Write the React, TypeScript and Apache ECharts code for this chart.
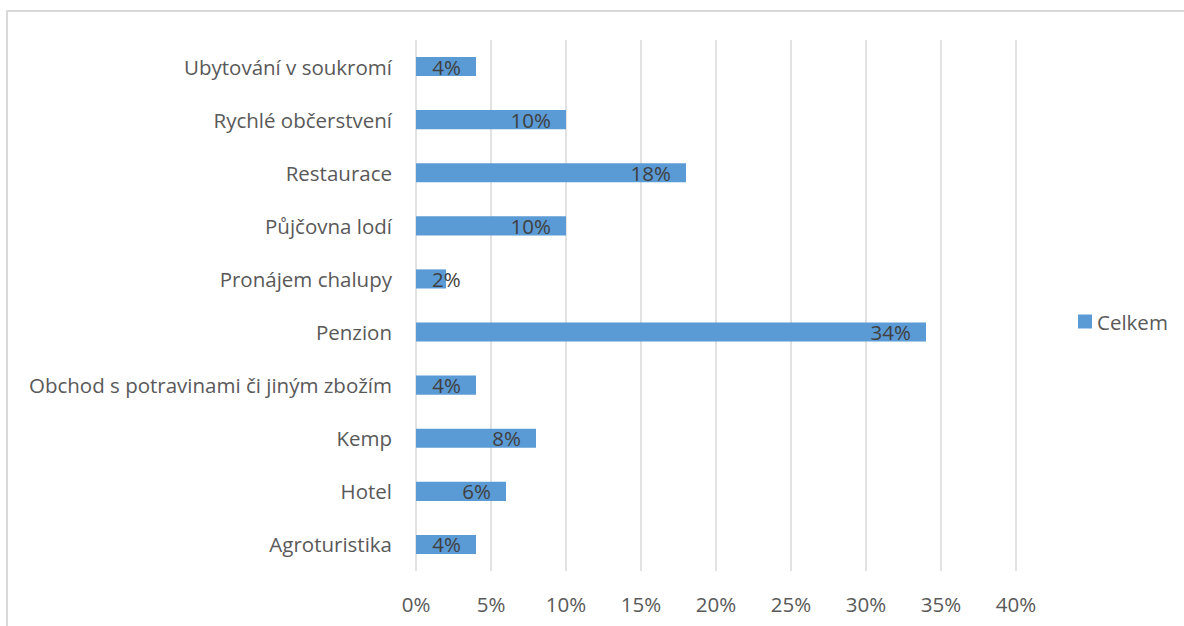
import React, { useEffect, useRef } from "react";
import * as echarts from "echarts";

const categories = [
  "Agroturistika",
  "Hotel",
  "Kemp",
  "Obchod s potravinami či jiným zbožím",
  "Penzion",
  "Pronájem chalupy",
  "Půjčovna lodí",
  "Restaurace",
  "Rychlé občerstvení",
  "Ubytování v soukromí",
];
const values = [4, 6, 8, 4, 34, 2, 10, 18, 10, 4];
const xTicks = [0, 5, 10, 15, 20, 25, 30, 35, 40];
const seriesName = "Celkem";

const FONT = "'Open Sans', 'Noto Sans', sans-serif";
const FS = 20.5;

export default function App() {
  const ref = useRef<HTMLDivElement>(null);
  useEffect(() => {
    if (!ref.current) return;
    const chart = echarts.init(ref.current, null, { renderer: "svg" });
    chart.setOption({
      animation: false,
      backgroundColor: "#ffffff",
      graphic: [
        {
          type: "rect",
          shape: { x: 7, y: 10, width: 1184, height: 2 },
          style: { fill: "#d9d9d9" },
          z: 100,
        },
        {
          type: "rect",
          shape: { x: 6, y: 10, width: 2, height: 620 },
          style: { fill: "#d9d9d9" },
          z: 100,
        },
      ],
      legend: {
        data: [seriesName],
        left: 1078,
        top: 311,
        padding: 0,
        itemWidth: 14,
        itemHeight: 14,
        itemGap: 6,
        icon: "rect",
        textStyle: { color: "#595959", fontSize: FS, fontFamily: FONT },
      },
      grid: { left: 416, right: 168, top: 40, bottom: 55, containLabel: false },
      xAxis: {
        type: "value",
        min: 0,
        max: 40,
        interval: 5,
        axisLine: { show: false },
        axisTick: { show: false },
        splitLine: { show: true, lineStyle: { color: "#d9d9d9", width: 1.5 } },
        axisLabel: {
          margin: 22,
          color: "#595959",
          fontSize: FS,
          fontFamily: FONT,
          formatter: (v: number) => (xTicks.includes(v) ? v + "%" : ""),
        },
      },
      yAxis: {
        type: "category",
        data: categories,
        axisLine: { show: false },
        axisTick: { show: false },
        axisLabel: {
          margin: 24,
          color: "#595959",
          fontSize: FS,
          fontFamily: FONT,
        },
      },
      series: [
        {
          name: seriesName,
          type: "bar",
          barWidth: "36%",
          itemStyle: { color: "#5b9bd5" },
          data: values.map((v) =>
            v < 3
              ? { value: v, label: { position: "insideLeft", distance: 16 } }
              : v
          ),
          label: {
            show: true,
            position: "insideRight",
            distance: 15,
            color: "#404040",
            fontSize: FS,
            fontFamily: FONT,
            formatter: (p: any) => p.value + "%",
          },
        },
      ],
    });
    return () => chart.dispose();
  }, []);
  return (
    <div
      ref={ref}
      style={{ position: "fixed", left: 0, top: 0, width: 1184, height: 626 }}
    />
  );
}
